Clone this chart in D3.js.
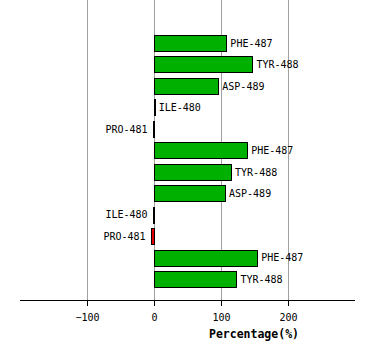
<!DOCTYPE html>
<html>
<head>
<meta charset="utf-8">
<script src="https://cdn.jsdelivr.net/npm/d3@7"></script>
<style>
  body { margin: 0; background: #fff; }
  text { font-family: "DejaVu Sans Mono", monospace; }
</style>
</head>
<body>
<div id="chart"></div>
<script>
// residue labels, top to bottom
var residues = ["PHE-487", "TYR-488", "ASP-489", "ILE-480", "PRO-481",
                "PHE-487", "TYR-488", "ASP-489", "ILE-480", "PRO-481",
                "PHE-487", "TYR-488"];
// percentage values
var values = [108, 147, 96, 1, -2, 139, 115, 106, -2, -5, 154, 123];
var barColors = ["#00b000", "#00b000", "#00b000", "#00b000", "#00b000",
                 "#00b000", "#00b000", "#00b000", "#00b000", "#e00000",
                 "#00b000", "#00b000"];
var tickValues = [-100, 0, 100, 200];

var width = 374, height = 360;
var axisY = 300;

var dataset = residues.map(function(r, i) {
    return { id: i, name: r, value: values[i], color: barColors[i] };
});

var svg = d3.select("#chart")
    .append("svg")
    .attr("width", width)
    .attr("height", height);

var xScale = d3.scaleLinear()
    .domain([-200, 300])
    .range([20, 355]);

var yScale = d3.scaleBand()
    .domain(dataset.map(function(d) { return d.id; }))
    .range([32.1, 289.6])
    .paddingInner(0.27)
    .paddingOuter(0.135);

// vertical grid lines
svg.selectAll("line.grid")
    .data(tickValues)
    .enter()
    .append("line")
    .attr("class", "grid")
    .attr("x1", function(d) { return Math.round(xScale(d)) + 0.5; })
    .attr("x2", function(d) { return Math.round(xScale(d)) + 0.5; })
    .attr("y1", 0)
    .attr("y2", axisY)
    .attr("stroke", "#a0a0a0")
    .attr("stroke-width", 1);

// bars
svg.selectAll("rect.bar")
    .data(dataset)
    .enter()
    .append("rect")
    .attr("class", "bar")
    .attr("x", function(d) { return Math.round(xScale(Math.min(0, d.value))) + 0.5; })
    .attr("y", function(d) { return Math.round(yScale(d.id)) + 0.5; })
    .attr("width", function(d) { return Math.max(0.5, Math.round(Math.abs(xScale(d.value) - xScale(0)))); })
    .attr("height", Math.round(yScale.bandwidth()))
    .attr("fill", function(d) { return d.color; })
    .attr("stroke", "#000")
    .attr("stroke-width", 1);

// bar labels
svg.selectAll("text.label")
    .data(dataset)
    .enter()
    .append("text")
    .attr("class", "label")
    .text(function(d) { return d.name; })
    .attr("x", function(d) {
        return d.value >= 0 ? xScale(d.value) + 4 : xScale(d.value) - 5;
    })
    .attr("y", function(d) { return yScale(d.id) + yScale.bandwidth() / 2 + 4; })
    .attr("text-anchor", function(d) { return d.value >= 0 ? "start" : "end"; })
    .attr("font-size", "10px")
    .attr("fill", "#000");

// x axis
var xAxis = d3.axisBottom(xScale)
    .tickValues(tickValues)
    .tickSize(6)
    .tickPadding(8)
    .tickFormat(d3.format("d"));

var gx = svg.append("g")
    .attr("transform", "translate(0," + axisY + ")")
    .call(xAxis);

gx.select(".domain").remove();
gx.append("line")
    .attr("x1", 20)
    .attr("x2", 355)
    .attr("y1", 0.5)
    .attr("y2", 0.5)
    .attr("stroke", "#000");
gx.selectAll(".tick line").attr("stroke", "#000");
gx.selectAll(".tick text")
    .attr("font-family", "DejaVu Sans Mono, monospace")
    .attr("font-size", "10px")
    .attr("fill", "#000");

// axis title
svg.append("text")
    .text("Percentage(%)")
    .attr("x", 254)
    .attr("y", 338)
    .attr("text-anchor", "middle")
    .attr("font-size", "11.5px")
    .attr("font-weight", "bold")
    .attr("fill", "#000");
</script>
</body>
</html>
